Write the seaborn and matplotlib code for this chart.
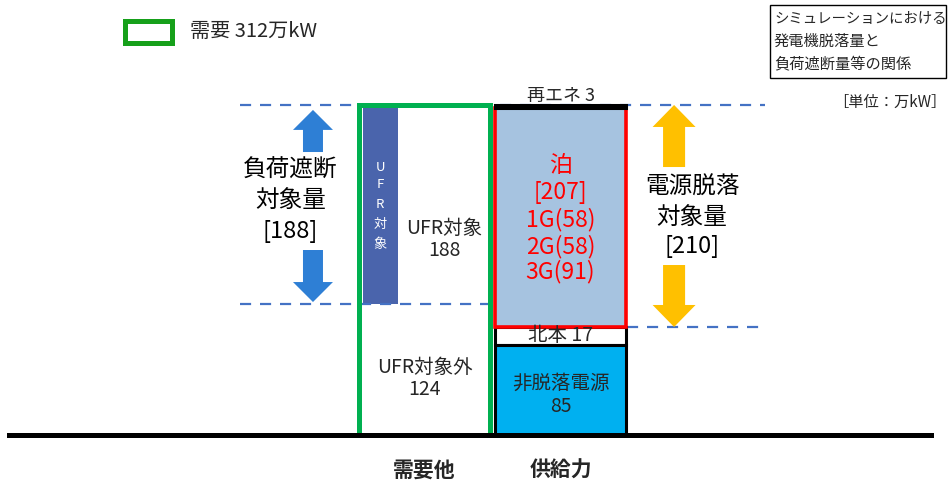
import matplotlib
matplotlib.use("Agg")
import matplotlib.pyplot as plt
from matplotlib.patches import FancyArrow, Rectangle
import seaborn as sns

# --- data (万kW) ---
categories = ["需要他", "供給力"]

demand_total = 312
ufr_target = 188
ufr_other = 124

supply_labels = ["非脱落電源", "北本", "泊", "再エネ"]
supply_values = [85, 17, 207, 3]
supply_colors = ["#00B0F0", "white", "#A6C3E0", "black"]
supply_edges = ["black", "black", "#FF0000", "black"]

tomari_units = ["1G", "2G", "3G"]
tomari_values = [58, 58, 91]

shed_total = 188
trip_total = 210

W, H = 951, 482


def fig_xy(px, py):
    return px / W, 1 - py / H


sns.set_theme(style="white")
plt.rcParams["font.family"] = ["Noto Sans CJK JP", "DejaVu Sans"]

fig = plt.figure(figsize=(W / 100, H / 100), dpi=100)
ax = fig.add_axes([9 / W, 47 / H, 922 / W, 435 / H])

bar_w = 0.96
green = "#00B050"

# demand bar: white body, UFR part, green frame
sns.barplot(x=[categories[0]], y=[demand_total], order=categories, width=bar_w,
            color="white", saturation=1, linewidth=0, ax=ax, zorder=2)
ax.bar(-0.454, ufr_target, bottom=ufr_other, width=0.259, align="edge",
       color="#4A64AC", linewidth=0, zorder=3)
sns.barplot(x=[categories[0]], y=[demand_total], order=categories, width=bar_w,
            color=green, saturation=1, facecolor="none", edgecolor=green,
            linewidth=3.6, ax=ax, zorder=5)

# supply stack
bottom = 0
for lab, val, fc, ec in zip(supply_labels, supply_values, supply_colors, supply_edges):
    z = 4 if lab == "非脱落電源" else 3
    lw = 2.6 if ec == "#FF0000" else 2.2
    sns.barplot(x=[categories[1]], y=[val], order=categories, bottom=bottom,
                width=bar_w, color=fc, saturation=1, edgecolor=ec,
                linewidth=lw, ax=ax, zorder=z)
    bottom += val

# dashed guide lines
dash_kw = dict(color="#4472C4", linewidth=1.6, linestyles=(0, (5, 4)))
ax.hlines(demand_total, -1.357, 2.504, zorder=1, **dash_kw)
ax.hlines(ufr_other, -1.357, 0.482, zorder=4, **dash_kw)
ax.hlines(supply_values[0] + supply_values[1], 1.489, 2.504, zorder=1, **dash_kw)

# arrows
blue_arrow = "#2E7FD5"
ax.add_patch(FancyArrow(-0.82, 267.7, 0, 307.5 - 267.7, width=0.147, head_width=0.294,
                        head_length=18.9, length_includes_head=True, color=blue_arrow, lw=0))
ax.add_patch(FancyArrow(-0.82, 175.0, 0, 125.8 - 175.0, width=0.147, head_width=0.294,
                        head_length=18.9, length_includes_head=True, color=blue_arrow, lw=0))
orange = "#FFC000"
ax.add_patch(FancyArrow(1.835, 253.5, 0, 312.2 - 253.5, width=0.162, head_width=0.316,
                        head_length=20.8, length_includes_head=True, color=orange, lw=0))
ax.add_patch(FancyArrow(1.835, 160.8, 0, 102.2 - 160.8, width=0.162, head_width=0.316,
                        head_length=20.8, length_includes_head=True, color=orange, lw=0))

# side labels
for txt, y in zip(["負荷遮断", "対象量", f"[{shed_total}]"], [250.7, 222.3, 192.1]):
    ax.text(-0.985, y, txt, ha="center", va="center", fontsize=17, color="black")
for txt, y in zip(["電源脱落", "対象量", f"[{trip_total}]"], [234.6, 206.2, 177.9]):
    ax.text(1.967, y, txt, ha="center", va="center", fontsize=17, color="black")

# demand bar labels
for ch, y in zip("UFR対象", [253.5, 236.5, 217.6, 198.7, 179.8]):
    ax.text(-0.327, y, ch, ha="center", va="center", fontsize=9.5, color="white", zorder=6)
ax.text(0.143, 195.8, "UFR対象", ha="center", va="center", fontsize=14, zorder=6)
ax.text(0.143, 175.0, f"{ufr_target}", ha="center", va="center", fontsize=14, zorder=6)
ax.text(0.0, 64.3, "UFR対象外", ha="center", va="center", fontsize=14, zorder=6)
ax.text(0.0, 42.6, f"{ufr_other}", ha="center", va="center", fontsize=14, zorder=6)

# supply labels
ax.text(1.0, 49.2, supply_labels[0], ha="center", va="center", fontsize=14, zorder=6)
ax.text(1.0, 26.5, f"{supply_values[0]}", ha="center", va="center", fontsize=14, zorder=6)
ax.text(1.0, 93.7, f"{supply_labels[1]} {supply_values[1]}", ha="center", va="center",
        fontsize=14, zorder=3.5)
ax.text(1.0, 320.7, f"{supply_labels[3]} {supply_values[3]}", ha="center", va="center",
        fontsize=13, zorder=2.5)
tomari_lines = [supply_labels[2], f"[{supply_values[2]}]"] + \
    [f"{u}({v})" for u, v in zip(tomari_units, tomari_values)]
for txt, y in zip(tomari_lines, [255.4, 229.0, 203.4, 177.9, 154.2]):
    ax.text(1.0, y, txt, ha="center", va="center", fontsize=16.5, color="#FF0000", zorder=6)

# legend
ax.add_patch(Rectangle((-2.199, 370.9), 0.346, 20.8, facecolor="white",
                       edgecolor="#16A01A", linewidth=3.6, clip_on=False))
ax.text(-1.724, 381.3, f"需要 {demand_total}万kW", ha="left", va="center", fontsize=14.5)

# axes styling
ax.set_xlim(-3.055, 3.724)
ax.set_ylim(0, 411.5)
ax.set_xlabel("")
ax.set_ylabel("")
ax.set_yticks([])
ax.set_xticks([0, 1])
ax.set_xticklabels(categories, fontsize=15, fontweight="bold")
ax.tick_params(axis="x", length=0, pad=18)
for side in ["top", "left", "right"]:
    ax.spines[side].set_visible(False)
ax.spines["bottom"].set_color("black")
ax.spines["bottom"].set_linewidth(3.6)
ax.spines["bottom"].set_zorder(6)

# title box and unit
x0, y0 = fig_xy(770, 78)
x1, y1 = fig_xy(946, 5)
fig.patches.append(Rectangle((x0, y0), x1 - x0, y1 - y0, transform=fig.transFigure,
                             facecolor="white", edgecolor="black", linewidth=1))
title_lines = ["シミュレーションにおける", "発電機脱落量と", "負荷遮断量等の関係"]
for txt, py, fs in zip(title_lines, [19.5, 41.5, 63.5], [10.4, 11, 11]):
    fx, fy = fig_xy(774, py)
    fig.text(fx, fy, txt, ha="left", va="center", fontsize=fs)
fx, fy = fig_xy(946, 102)
fig.text(fx, fy, "［単位：万kW］", ha="right", va="center", fontsize=11)

fig.savefig("out.png", dpi=100)
